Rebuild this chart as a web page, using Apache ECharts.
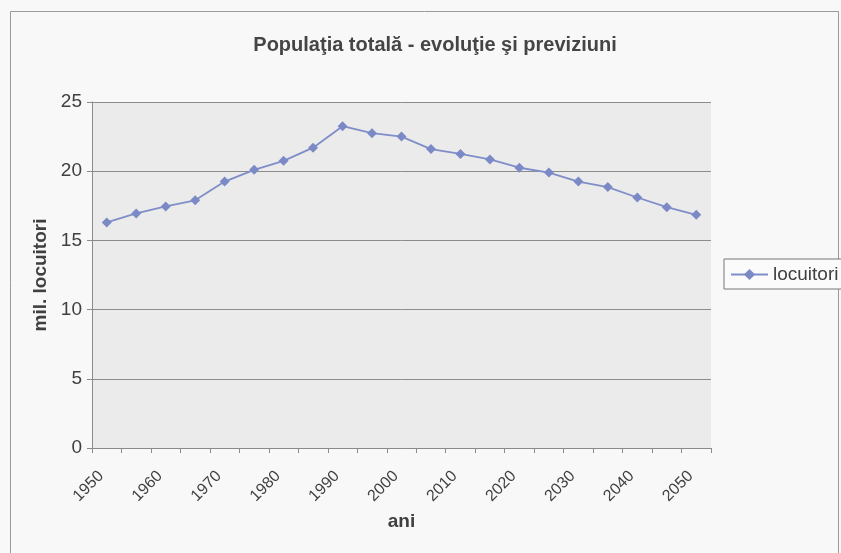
<!DOCTYPE html>
<html>
<head>
<meta charset="utf-8">
<script src="https://cdn.jsdelivr.net/npm/echarts@6/dist/echarts.min.js"></script>
<style>
html,body{margin:0;padding:0;background:#f8f8f8;}
#c{width:841px;height:553px;}
</style>
</head>
<body>
<div id="c"></div>
<script>
var years = ['1950','1955','1960','1965','1970','1975','1980','1985','1990','1995','2000','2005','2010','2015','2020','2025','2030','2035','2040','2045','2050'];
var locuitori = [16.3, 16.95, 17.45, 17.9, 19.25, 20.1, 20.75, 21.7, 23.25, 22.75, 22.5, 21.6, 21.25, 20.85, 20.25, 19.9, 19.25, 18.85, 18.1, 17.4, 16.85];
var yTicks = [0, 5, 10, 15, 20, 25];

var chart = echarts.init(document.getElementById('c'));
var font = 'Arial, "Liberation Sans", sans-serif';
chart.setOption({
  backgroundColor: '#f8f8f8',
  animation: false,
  graphic: [{
    type: 'rect',
    shape: {x: 10.5, y: 11.5, width: 828, height: 560},
    style: {fill: 'none', stroke: '#9a9a9a', lineWidth: 1},
    silent: true
  }],
  title: {
    text: 'Populaţia totală - evoluţie şi previziuni',
    left: 430,
    top: 30,
    textAlign: 'center',
    textStyle: {fontFamily: font, fontSize: 20, fontWeight: 'bold', color: '#454545'}
  },
  legend: {
    left: 724,
    top: 259,
    itemWidth: 37,
    itemHeight: 14,
    itemGap: 5,
    padding: [6, 6, 5, 6],
    borderColor: '#777',
    borderWidth: 1,
    backgroundColor: '#fbfbfb',
    textStyle: {fontFamily: font, fontSize: 19, color: '#404040'},
    data: ['locuitori']
  },
  grid: {
    left: 92, right: 130, top: 102, bottom: 105,
    show: true, backgroundColor: '#ebebeb', borderWidth: 0
  },
  xAxis: {
    type: 'category',
    data: years,
    boundaryGap: true,
    name: 'ani',
    nameLocation: 'middle',
    nameGap: 64,
    nameMoveOverlap: false,
    nameTextStyle: {fontFamily: font, fontSize: 19, fontWeight: 'bold', color: '#404040'},
    axisLine: {lineStyle: {color: '#8a8a8a', width: 1}},
    axisTick: {show: true, interval: 0, length: 5, inside: false, lineStyle: {color: '#8a8a8a'}},
    axisLabel: {interval: 1, rotate: 45, margin: 20, padding: [0, 8, 0, 0], fontFamily: font, fontSize: 16, color: '#404040'},
    splitLine: {show: false}
  },
  yAxis: {
    type: 'value',
    min: yTicks[0],
    max: yTicks[yTicks.length - 1],
    interval: 5,
    name: 'mil. locuitori',
    nameLocation: 'middle',
    nameGap: 42,
    nameRotate: 90,
    nameTextStyle: {fontFamily: font, fontSize: 19, fontWeight: 'bold', color: '#404040'},
    axisLine: {show: true, lineStyle: {color: '#8a8a8a', width: 1}},
    axisTick: {show: true, length: 5, lineStyle: {color: '#8a8a8a'}},
    axisLabel: {margin: 10, fontFamily: font, fontSize: 19, color: '#404040'},
    splitLine: {show: true, lineStyle: {color: '#8c8c8c', width: 1}}
  },
  series: [{
    name: 'locuitori',
    type: 'line',
    data: locuitori,
    symbol: 'diamond',
    symbolSize: 10,
    lineStyle: {color: '#7f8ec8', width: 1.8},
    itemStyle: {color: '#7b8ac6'}
  }]
});
</script>
</body>
</html>
